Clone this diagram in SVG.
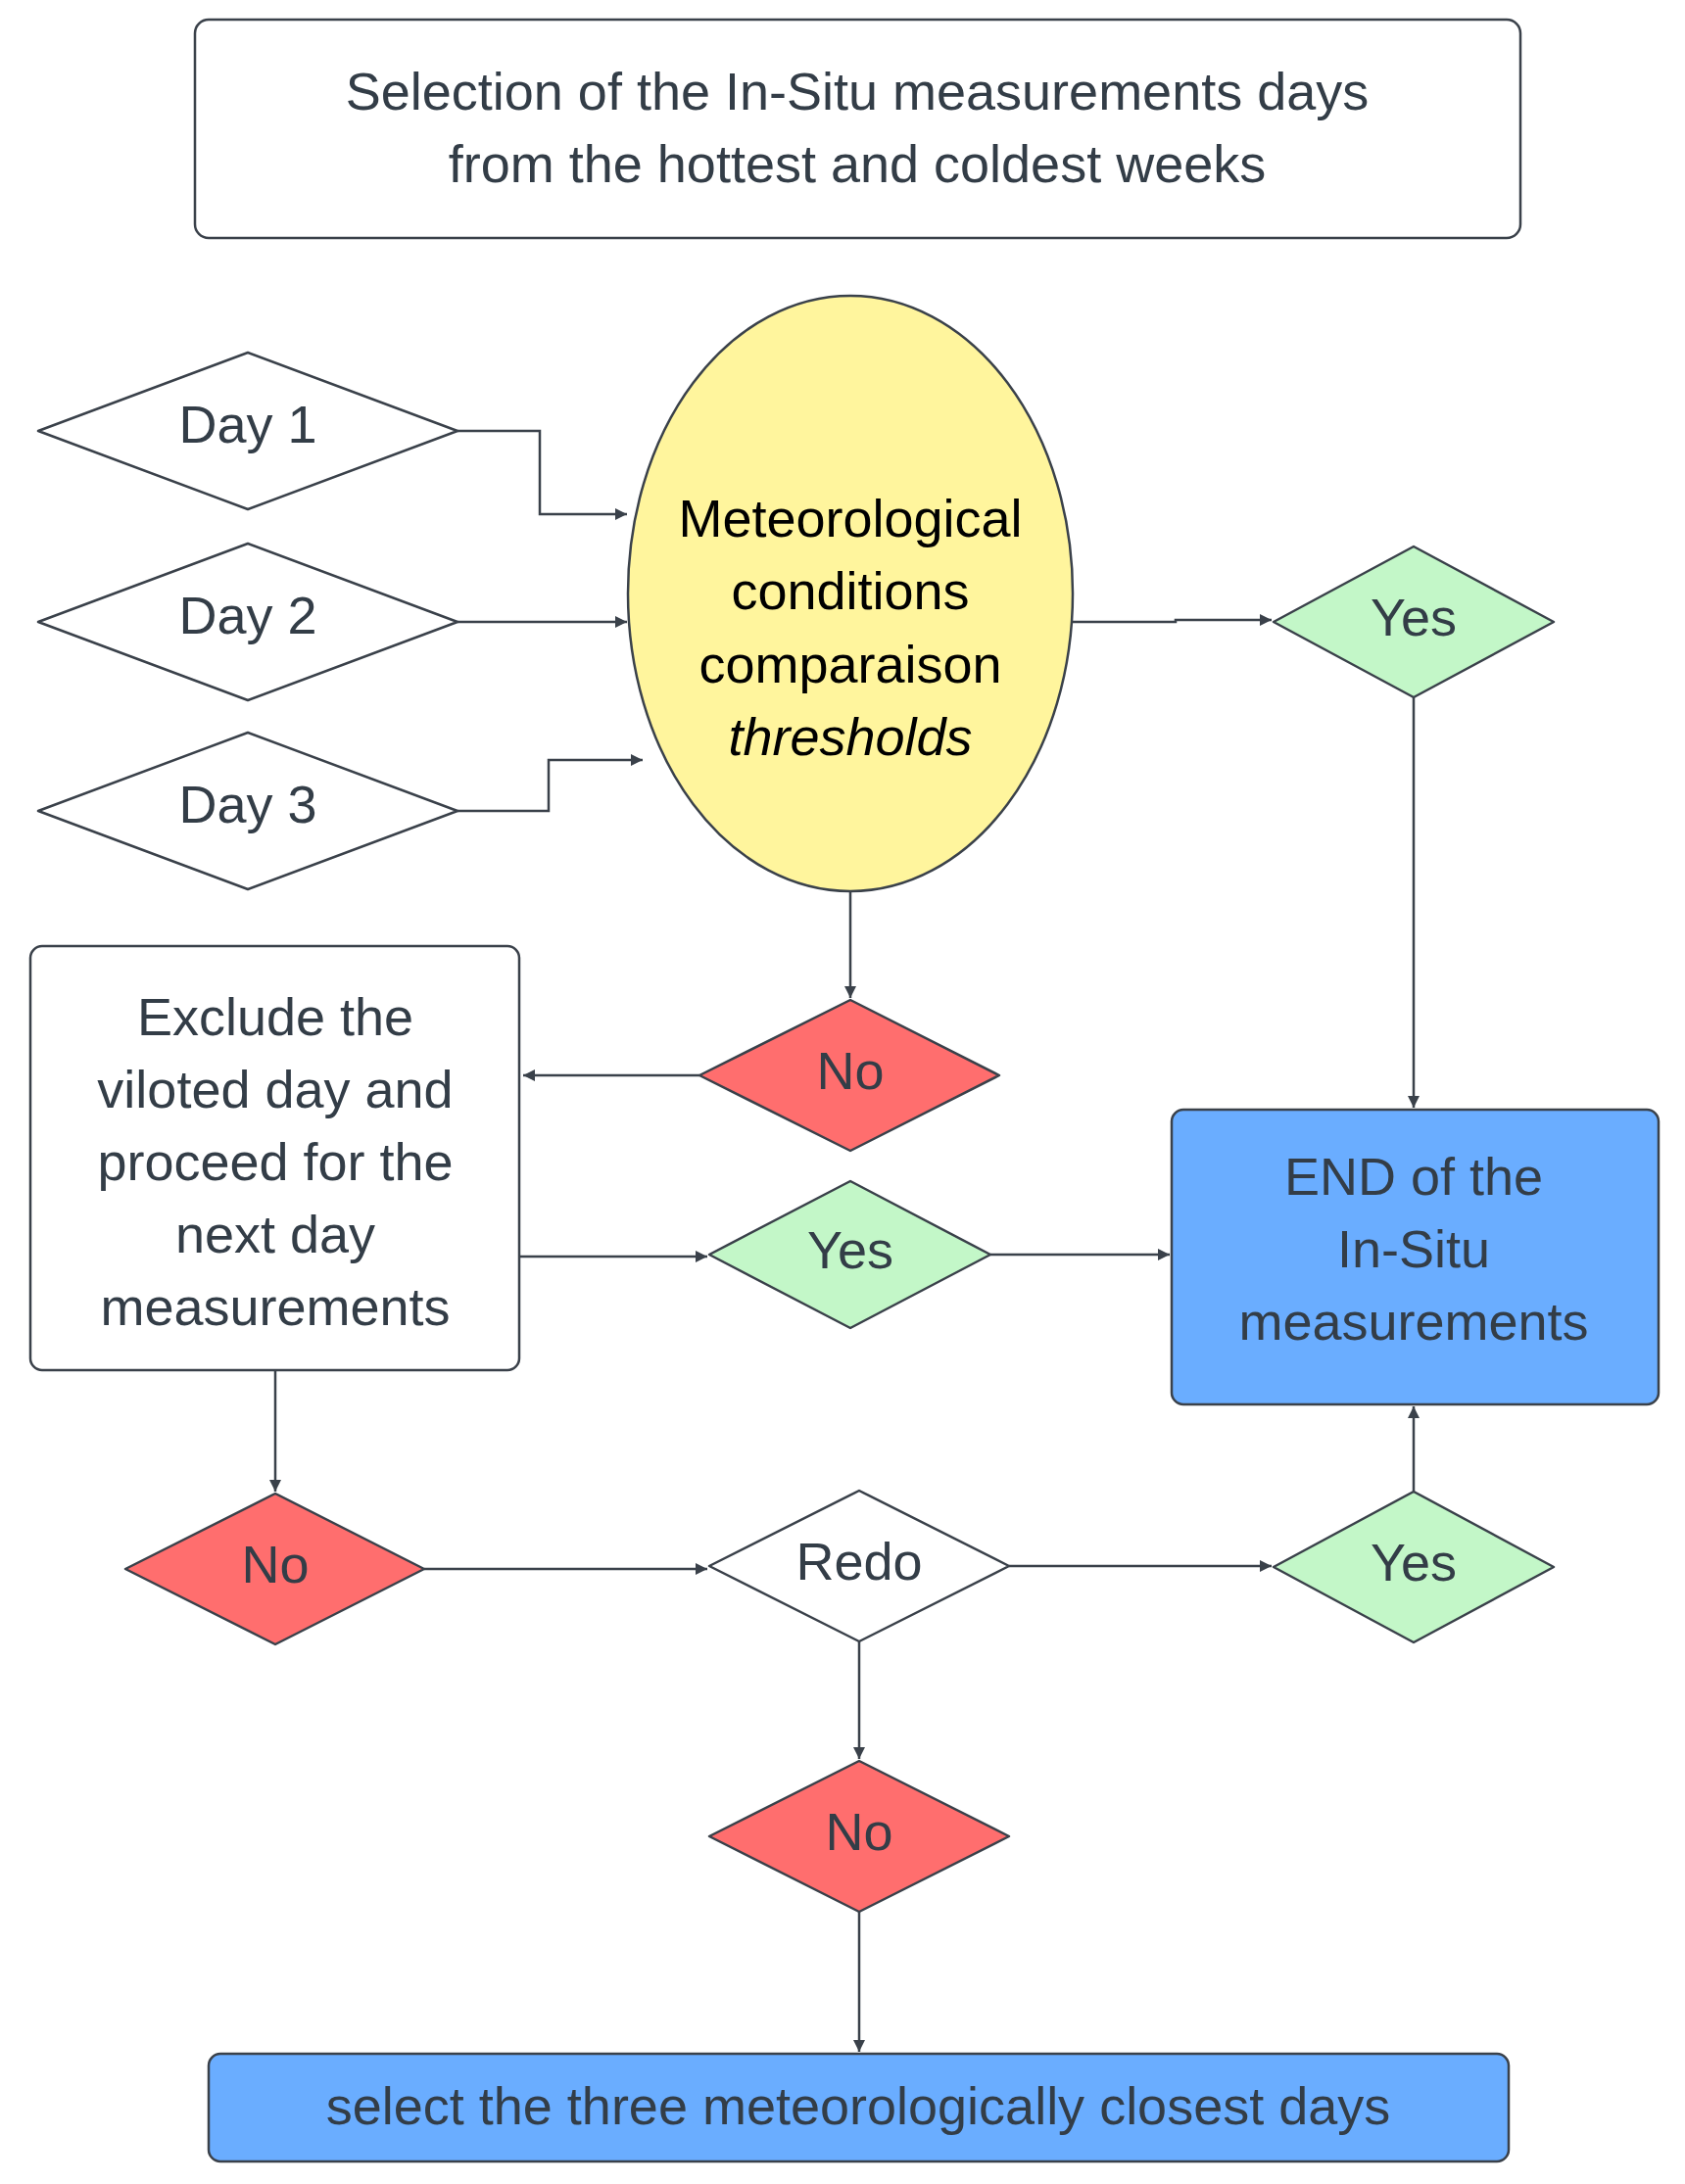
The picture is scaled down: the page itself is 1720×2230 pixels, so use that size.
<svg xmlns="http://www.w3.org/2000/svg" width="1720" height="2230" viewBox="0 0 1720 2230">
<style>
.s{stroke:#3a414a;stroke-width:2.5;stroke-linejoin:round}
.w{fill:#fff}.r{fill:#ff6e6e}.g{fill:#c3f7c8}.b{fill:#6aadff}.y{fill:#fff59d}
text{font-family:"Liberation Sans",Arial,sans-serif;fill:#333d47;text-anchor:middle;dominant-baseline:central;font-size:54px}
.k{fill:#000}
.c{fill:none;stroke:#3a414a;stroke-width:2.5}
</style>
<defs><marker id="a" viewBox="0 0 10 10" refX="10" refY="5" markerWidth="12" markerHeight="12" markerUnits="userSpaceOnUse" orient="auto"><path d="M0,0L10,5L0,10z" fill="#3a414a"/></marker>
<marker id="m" viewBox="0 0 10 10" refX="10" refY="5" markerWidth="5" markerHeight="5" orient="auto"><path d="M0,0L10,5L0,10z" fill="#3a414a"/></marker></defs>
<g id="title"><rect class="s w" x="199" y="20" width="1353" height="223" rx="14"/><text x="875" y="93">Selection of the In-Situ measurements days</text><text x="875" y="167">from the hottest and coldest weeks</text></g>
<g id="day1"><polygon class="s w" points="39,440 253,360 467,440 253,520"/><text x="253" y="433">Day 1</text></g>
<g id="day2"><polygon class="s w" points="39,635 253,555 467,635 253,715"/><text x="253" y="628">Day 2</text></g>
<g id="day3"><polygon class="s w" points="39,828 253,748 467,828 253,908"/><text x="253" y="821">Day 3</text></g>
<g id="meteo"><ellipse class="s y" cx="868" cy="606" rx="227" ry="304"/><text class="k" x="868" y="529">Meteorological</text><text class="k" x="868" y="603">conditions</text><text class="k" x="868" y="678">comparaison</text><text class="k" x="868" y="752" font-style="italic">thresholds</text></g>
<g id="yes1"><polygon class="s g" points="1300,635 1443,558 1586,635 1443,712"/><text x="1443" y="630">Yes</text></g>
<g id="no1"><polygon class="s r" points="714,1098 868,1021 1020,1098 868,1175"/><text x="868" y="1093">No</text></g>
<g id="end"><rect class="s b" x="1196" y="1133" width="497" height="301" rx="12"/><text x="1443" y="1201">END of the</text><text x="1443" y="1275">In-Situ</text><text x="1443" y="1349">measurements</text></g>
<g id="exclude"><rect class="s w" x="31" y="966" width="499" height="433" rx="12"/><text x="281" y="1038">Exclude the</text><text x="281" y="1112">viloted day and</text><text x="281" y="1186">proceed for the</text><text x="281" y="1260">next day</text><text x="281" y="1334">measurements</text></g>
<g id="yes2"><polygon class="s g" points="724,1281 868,1206 1011,1281 868,1356"/><text x="868" y="1276">Yes</text></g>
<g id="no2"><polygon class="s r" points="128,1602 281,1525 433,1602 281,1679"/><text x="281" y="1597">No</text></g>
<g id="redo"><polygon class="s w" points="724,1599 877,1522 1030,1599 877,1676"/><text x="877" y="1594">Redo</text></g>
<g id="yes3"><polygon class="s g" points="1300,1600 1443,1523 1586,1600 1443,1677"/><text x="1443" y="1595">Yes</text></g>
<g id="no3"><polygon class="s r" points="724,1875 877,1798 1030,1875 877,1952"/><text x="877" y="1870">No</text></g>
<g id="select"><rect class="s b" x="213" y="2097" width="1327" height="110" rx="12"/><text x="876" y="2150">select the three meteorologically closest days</text></g>
<g id="connectors">
<path class="c" d="M467,440H551V525H640" marker-end="url(#a)"/>
<path class="c" d="M467,635H640" marker-end="url(#a)"/>
<path class="c" d="M467,828H560V776H656" marker-end="url(#a)"/>
<path class="c" d="M1095,635H1200V633H1298" marker-end="url(#a)"/>
<path class="c" d="M868,910V1019" marker-end="url(#a)"/>
<path class="c" d="M1443,712V1131" marker-end="url(#a)"/>
<path class="c" d="M714,1098H534" marker-end="url(#a)"/>
<path class="c" d="M530,1283H722" marker-end="url(#a)"/>
<path class="c" d="M1011,1281H1194" marker-end="url(#a)"/>
<path class="c" d="M281,1399V1523" marker-end="url(#a)"/>
<path class="c" d="M433,1602H722" marker-end="url(#a)"/>
<path class="c" d="M1030,1599H1298" marker-end="url(#a)"/>
<path class="c" d="M1443,1523V1436" marker-end="url(#a)"/>
<path class="c" d="M877,1676V1796" marker-end="url(#a)"/>
<path class="c" d="M877,1952V2095" marker-end="url(#a)"/>
</g>
</svg>
